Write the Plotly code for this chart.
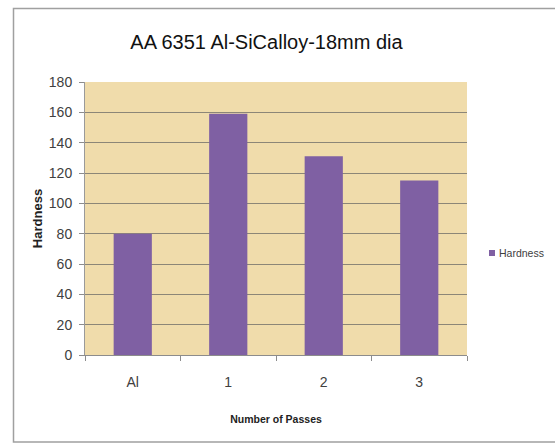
import plotly.graph_objects as go

# Hardness after each pass
categories = ["Al", "1", "2", "3"]
hardness = [80, 159, 131, 115]
series_name = "Hardness"

W, H = 555, 445
L, R, T, B = 85, 467, 82, 355  # plot area in pixels
BAR_COLOR = "#7F60A3"
FONT = "'Liberation Sans', Arial, sans-serif"


def px_x(x):
    return (x - L) / (R - L)


def px_y(y):
    return (B - y) / (B - T)


fig = go.Figure()
fig.add_trace(go.Bar(
    x=categories,
    y=hardness,
    name=series_name,
    marker=dict(color=BAR_COLOR, line=dict(width=0)),
    showlegend=False,
))

fig.update_layout(
    width=W,
    height=H,
    margin=dict(l=L, r=W - R, t=T, b=H - B, autoexpand=False),
    paper_bgcolor="white",
    plot_bgcolor="#F0DCAB",
    bargap=0.6,
    font=dict(family=FONT, color="#404040"),
    title=dict(
        text="AA 6351 Al-SiCalloy-18mm dia",
        x=px_x(266.5),
        xref="paper",
        xanchor="center",
        y=1 - 42 / H,
        yanchor="middle",
        font=dict(size=20, color="#111111", family=FONT),
    ),
    xaxis=dict(
        showgrid=False,
        showline=True,
        linecolor="#8C8C8C",
        linewidth=1,
        ticks="outside",
        tickson="boundaries",
        ticklen=5,
        tickcolor="#8C8C8C",
        ticklabelstandoff=14,
        tickfont=dict(size=14, color="#404040"),
        title=dict(text="<b>Number of Passes</b>", font=dict(size=10.5, color="#222222"), standoff=26),
    ),
    yaxis=dict(
        range=[0, 180],
        dtick=20,
        showgrid=True,
        gridcolor="#8C8677",
        gridwidth=1,
        showline=True,
        linecolor="#9A9A9A",
        linewidth=1,
        ticks="outside",
        ticklen=5,
        tickcolor="#8C8C8C",
        ticklabelstandoff=4,
        tickfont=dict(size=14, color="#404040"),
        zeroline=False,
        title=dict(text="<b>Hardness</b>", font=dict(size=13, color="#222222"), standoff=3),
    ),
)

# Legend key: small swatch plus series label
fig.add_shape(
    type="rect",
    xref="paper", yref="paper",
    x0=px_x(489), x1=px_x(495),
    y0=px_y(256), y1=px_y(250),
    line=dict(width=0),
    fillcolor=BAR_COLOR,
)
fig.add_annotation(
    xref="paper", yref="paper",
    x=px_x(497), y=px_y(253),
    xanchor="left", yanchor="middle",
    text=series_name,
    showarrow=False,
    font=dict(size=10.5, color="#404040", family=FONT),
)

# Chart frame
fig.add_shape(
    type="rect",
    xref="paper", yref="paper",
    x0=px_x(13.5), x1=px_x(560),
    y0=px_y(442), y1=px_y(8.5),
    line=dict(color="#A0A0A0", width=1.5),
    fillcolor="rgba(0,0,0,0)",
    layer="below",
)

fig.write_html("out.html")
